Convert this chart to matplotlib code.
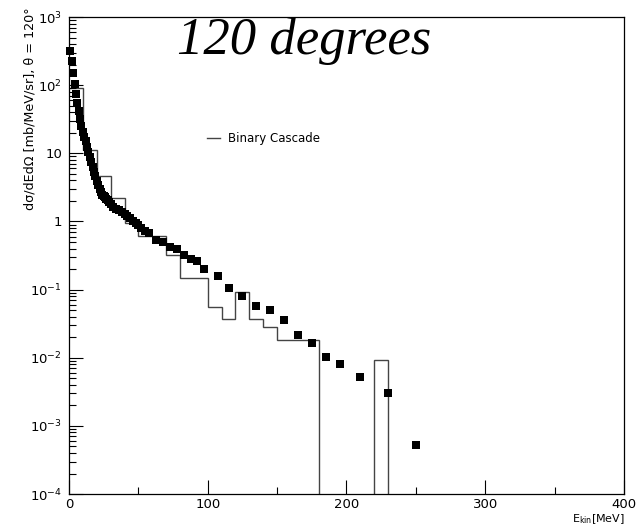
import numpy as np
import matplotlib.pyplot as plt
from matplotlib.ticker import NullFormatter

# measured points (black squares)
e_data = [1, 2, 3, 4, 5, 6, 7, 8, 9, 10, 11, 12, 13, 14, 15, 16, 17, 18, 19, 20,
          21, 22, 23, 24, 25, 26, 27, 28, 29, 30, 32, 34, 36, 38, 40, 42, 44, 46,
          48, 50, 52, 55, 58, 63, 68, 73, 77.5, 83, 88, 92.5, 97.5, 107.5, 115,
          125, 135, 145, 155, 165, 175, 185, 195, 210, 230, 250]
xs_data = [320, 230, 150, 105, 75, 55, 42, 32, 25, 20.5, 17.5, 15, 12.5, 10.5,
           8.8, 7.4, 6.3, 5.4, 4.6, 3.9, 3.4, 3.0, 2.7, 2.45, 2.35, 2.25, 2.15,
           2.05, 1.9, 1.8, 1.62, 1.52, 1.45, 1.38, 1.3, 1.22, 1.12, 1.0, 0.94,
           0.88, 0.8, 0.72, 0.67, 0.54, 0.50, 0.424, 0.388, 0.317, 0.279, 0.261,
           0.20, 0.157, 0.107, 0.080, 0.057, 0.051, 0.0356, 0.0214, 0.0162,
           0.0103, 0.0080, 0.0052, 0.00304, 0.00052]

# Binary Cascade histogram
bin_edges = [0, 10, 20, 30, 40, 50, 70, 80, 100, 110, 120, 130, 140, 150, 180,
             220, 230, 240]
bc_values = [90, 11.1, 4.67, 2.18, 0.953, 0.608, 0.32, 0.149, 0.0546, 0.0372,
             0.0925, 0.0372, 0.028, 0.0181, 0, 0.0092, 0]

ytick_vals = [1e-4, 1e-3, 1e-2, 1e-1, 1, 10, 1e2, 1e3]
ytick_labels = [r'$10^{-4}$', r'$10^{-3}$', r'$10^{-2}$', r'$10^{-1}$', '1', '10',
                r'$10^{2}$', r'$10^{3}$']
xtick_vals = [0, 100, 200, 300, 400]

plt.rcParams['mathtext.fontset'] = 'dejavusans'

fig = plt.figure(figsize=(6.36, 5.32), dpi=100)
ax = fig.add_axes([0.1085, 0.0714, 0.8726, 0.8966])

ax.set_yscale('log', nonpositive='clip')
ax.set_xlim(0, 400)
ax.set_ylim(1e-4, 1e3)

ax.stairs(bc_values, bin_edges, baseline=None, color='#444444', lw=1.0)
ax.plot(e_data, xs_data, ls='none', marker='s', ms=5.6, mew=0, color='black',
        clip_on=False)

ax.set_yticks(ytick_vals)
ax.set_yticklabels(ytick_labels)
minor_y = [m * 10.0 ** k for k in range(-4, 3) for m in range(2, 10)]
ax.set_yticks(minor_y, minor=True)
ax.yaxis.set_minor_formatter(NullFormatter())
ax.set_xticks(xtick_vals)
ax.set_xticks([50, 150, 250, 350], minor=True)
ax.tick_params(axis='both', which='major', direction='in', length=10,
               width=0.8, labelsize=9.5, top=False, right=False)
ax.tick_params(axis='both', which='minor', direction='in', length=5,
               width=0.8, top=False, right=False)
ax.tick_params(axis='y', which='major', pad=5)
ax.tick_params(axis='x', which='major', pad=3)

for s in ax.spines.values():
    s.set_linewidth(0.9)

ax.text(0.423, 1.0, '120 degrees', transform=ax.transAxes, ha='center',
        va='top', fontsize=38, family='Liberation Serif', style='italic')

# legend entry drawn by hand like the original
ax.plot([0.248, 0.272], [0.746, 0.746], transform=ax.transAxes,
        color='#444444', lw=1.0)
ax.text(0.286, 0.746, 'Binary Cascade', transform=ax.transAxes, ha='left',
        va='center', fontsize=8.5)

fig.text(0.047, 0.987, 'dσ/dEdΩ [mb/MeV/sr], θ = 120°',
         rotation=90, ha='center', va='top', fontsize=9.2)
fig.text(0.983, 0.024, r'E$_{\rm kin}$[MeV]', ha='right', va='center',
         fontsize=8)

fig.savefig('out.png', dpi=100)
